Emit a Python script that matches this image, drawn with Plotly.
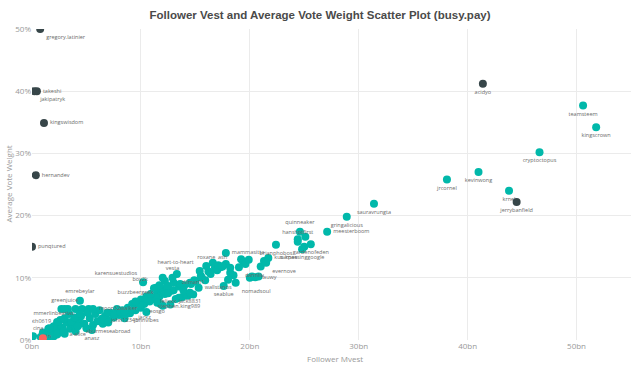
import plotly.graph_objects as go

# ---- labeled accounts: name, follower Mvest (bn), avg vote weight (%) ----
dark_names = ["gregory.latinier", "takeshi", "jakipatryk", "kingswisdom", "hernandev",
              "punqtured", "acidyo", "jerrybanfield"]
dark_mvest = [0.75, 0.45, 0.2, 1.1, 0.35, 0.0, 41.4, 44.5]
dark_weight = [50.0, 40.0, 40.0, 34.9, 26.5, 15.0, 41.2, 22.2]

red_names = [""]
red_mvest = [1.0]
red_weight = [0.3]

teal_names = ["teamsteem", "kingscrown", "cryptoctopus", "kevinwong", "jrcornel", "krnel",
              "sauravrungta", "gringalicious", "meesterboom", "quinneaker", "hanshotfirst",
              "gardenofeden", "surpassinggoogle", "brianphobos", "kus-knee", "evernove",
              "dannliu", "fauwy", "nomadsoul", "mammasitta", "ash", "roxane", "heart-to-heart",
              "dilmar01", "seablue", "jack8831", "wallstanos", "stephen.king989", "felixxx",
              "eosgo", "johnvibes", "john12345", "aburmeseabroad", "anasz", "a-alice",
              "karensuestudios", "vesta", "boy2k", "buzzbeergeek", "jackz", "moon32walker",
              "emrebeylar", "greenjuice", "mmerlinbearias", "eth0619", "cina", "artin"]
teal_mvest = [50.6, 51.8, 46.6, 41.0, 38.1, 43.8,
              31.4, 28.9, 27.1, 24.6, 24.4,
              25.6, 24.8, 22.4, 21.7, 21.5,
              19.0, 20.5, 18.7, 17.8, 17.5, 16.0, 15.4,
              16.4, 17.6, 14.5, 15.3, 13.5, 12.5,
              11.5, 10.5, 8.5, 7.0, 5.5, 4.2,
              10.2, 12.9, 11.2, 9.5, 9.2, 5.6,
              4.4, 3.0, 4.4, 2.3, 1.6, 0.1]
teal_weight = [37.7, 34.2, 30.2, 27.0, 25.8, 24.0,
               21.9, 19.8, 17.4, 17.4, 15.8,
               15.4, 14.6, 15.3, 13.2, 12.4,
               11.7, 10.1, 9.2, 14.0, 11.8, 11.9, 11.1,
               10.6, 8.7, 7.6, 8.4, 6.8, 7.5,
               6.0, 4.5, 4.6, 2.8, 1.6, 2.2,
               9.3, 10.0, 8.3, 6.2, 5.0, 5.0,
               6.3, 5.0, 4.2, 2.9, 1.9, 0.6]

# ---- unlabeled accounts in the dense band ----
band_mvest = [0.8, 1.2, 1.5, 1.0, 1.8, 2.0, 2.2, 1.5, 2.5, 2.8, 2.4, 3.0, 3.2, 3.5, 3.0,
              3.8, 4.0, 4.2, 2.6, 2.0, 3.4, 2.7, 3.3, 4.0, 4.6, 5.2, 4.5, 4.8, 5.0, 5.3,
              5.6, 5.8, 6.0, 6.2, 6.5, 6.7, 7.0, 7.2, 7.5, 7.8, 8.0, 8.3, 8.5, 8.8, 9.0,
              9.2, 9.5, 9.7, 10.0, 10.0, 10.3, 10.5, 10.8, 11.0, 11.2, 11.5, 11.7, 12.0,
              12.2, 12.5, 12.0, 11.8, 12.7, 13.2, 13.8, 14.3, 14.8, 13.0, 13.5, 14.0, 13.0,
              12.2, 12.0, 14.5, 15.0, 15.5, 16.2, 16.8, 17.0, 17.3, 17.8, 18.2, 18.5, 18.0,
              19.2, 19.4, 20.0, 20.2, 20.8, 21.0, 21.3, 25.1, 24.4, 25.0, 1.3, 1.6, 2.3,
              3.6, 4.4, 6.4, 6.9, 7.6, 8.1, 9.4, 9.9, 10.6, 11.4, 12.8, 11.4, 12.4, 14.6,
              15.6, 16.9, 19.6, 19.9, 13.6, 14.9, 16.6, 18.2, 17.1, 1.1, 2.9, 3.9, 5.1,
              6.6, 8.6, 10.9, 11.7, 13.9, 15.9, 17.4, 13.3]
band_weight = [0.5, 0.8, 0.4, 1.2, 1.0, 0.6, 1.5, 1.8, 1.2, 2.0, 2.5, 1.0, 2.8, 1.8, 3.5,
               2.5, 1.4, 3.2, 3.2, 2.2, 4.2, 5.0, 5.0, 5.0, 5.0, 5.0, 3.8, 2.6, 1.9, 3.5,
               2.4, 4.2, 3.0, 4.8, 2.6, 3.8, 3.2, 4.4, 3.6, 5.0, 4.0, 4.8, 3.5, 5.2, 4.3,
               5.8, 4.8, 6.0, 5.2, 6.5, 5.8, 7.0, 6.2, 7.4, 6.6, 7.8, 7.0, 8.2, 7.4, 8.7,
               5.5, 5.8, 5.7, 6.6, 6.9, 7.1, 7.3, 8.0, 8.6, 8.8, 9.2, 9.5, 10.0, 9.2, 9.4,
               10.3, 11.0, 11.6, 11.2, 11.7, 12.2, 10.8, 10.4, 9.7, 13.0, 12.6, 10.0, 10.2,
               10.2, 11.8, 12.7, 16.6, 16.2, 15.0, 0.3, 1.0, 0.9, 2.9, 2.6, 3.4, 4.4, 4.1,
               4.5, 5.2, 5.6, 6.6, 6.8, 7.9, 8.4, 8.6, 9.0, 10.0, 11.4, 12.2, 12.9, 9.0, 9.6,
               12.4, 11.6, 12.0, 0.2, 1.4, 3.6, 4.4, 3.3, 4.2, 7.4, 8.8, 8.0, 9.6, 11.8, 10.6]

x_ticks = [0, 10, 20, 30, 40, 50]
x_ticklabels = ["0bn", "10bn", "20bn", "30bn", "40bn", "50bn"]
y_ticks = [0, 10, 20, 30, 40, 50]
y_ticklabels = ["0%", "10%", "20%", "30%", "40%", "50%"]

TEAL = "#01B8AA"
DARK = "#374649"
RED = "#FD625E"

label_pos = {
    "gregory.latinier": "bottom right", "takeshi": "middle right", "jakipatryk": "bottom right",
    "kingswisdom": "middle right", "hernandev": "middle right", "punqtured": "middle right",
    "meesterboom": "middle right", "quinneaker": "top center", "hanshotfirst": "top center",
    "mammasitta": "middle right", "fauwy": "middle right", "nomadsoul": "bottom right",
    "ash": "top center", "roxane": "top center", "heart-to-heart": "top left",
    "karensuestudios": "top left", "vesta": "top center", "buzzbeergeek": "top center",
    "jackz": "bottom right", "moon32walker": "middle right", "emrebeylar": "top center",
    "greenjuice": "top center", "mmerlinbearias": "middle left", "eth0619": "middle left",
    "cina": "middle left", "artin": "middle right", "boy2k": "top left",
    "wallstanos": "middle right", "dilmar01": "bottom left", "kus-knee": "middle right",
    "evernove": "bottom right", "dannliu": "bottom right",
}

LABEL_FONT = dict(size=5.5, color="#6b6b6b", family="Open Sans")

fig = go.Figure()

fig.add_trace(go.Scatter(
    x=band_mvest, y=band_weight, mode="markers",
    marker=dict(color=TEAL, size=8, line=dict(width=0)), hoverinfo="skip", showlegend=False))

fig.add_trace(go.Scatter(
    x=teal_mvest, y=teal_weight, mode="markers+text", text=teal_names,
    textposition=[label_pos.get(n, "bottom center") for n in teal_names],
    textfont=LABEL_FONT,
    marker=dict(color=TEAL, size=8, line=dict(width=0)), showlegend=False))

fig.add_trace(go.Scatter(
    x=red_mvest, y=red_weight, mode="markers", text=red_names,
    marker=dict(color=RED, size=8, line=dict(width=0)), showlegend=False))

fig.add_trace(go.Scatter(
    x=dark_mvest, y=dark_weight, mode="markers+text", text=dark_names,
    textposition=[label_pos.get(n, "bottom center") for n in dark_names],
    textfont=LABEL_FONT,
    marker=dict(color=DARK, size=8, line=dict(width=0)), showlegend=False))

W, H = 640, 367
fig.update_layout(
    width=W, height=H,
    margin=dict(l=32, r=9, t=29, b=27, autoexpand=False),
    paper_bgcolor="white", plot_bgcolor="white",
    font=dict(family="Open Sans", color="#999999"),
    hovermode=False,
    title=dict(text="<b>Follower Vest and Average Vote Weight Scatter Plot (busy.pay)</b>",
               x=320 / W, xanchor="center", y=1 - 15 / H, yanchor="middle", yref="container",
               font=dict(family="Liberation Sans", size=11.5, color="#4a4a4a")),
    xaxis=dict(range=[0, 55], tickvals=x_ticks, ticktext=x_ticklabels, automargin=False,
               showgrid=True, gridcolor="#ebebeb", gridwidth=1, zeroline=False,
               showline=False, ticks="", tickfont=dict(size=8, color="#999999")),
    yaxis=dict(range=[0, 50], tickvals=y_ticks, ticktext=y_ticklabels, automargin=False,
               showgrid=True, gridcolor="#ebebeb", gridwidth=1, zeroline=False,
               showline=False, ticks="", tickfont=dict(size=8, color="#999999")),
    annotations=[
        dict(text="Follower Mvest", xref="paper", yref="paper", x=0.506, y=-18 / 311,
             xanchor="center", yanchor="middle", showarrow=False,
             font=dict(size=8, color="#999999", family="Open Sans")),
        dict(text="Average Vote Weight", xref="paper", yref="paper", x=-24 / 599, y=0.5,
             xanchor="center", yanchor="middle", textangle=-90, showarrow=False,
             font=dict(size=8, color="#999999", family="Open Sans")),
    ],
)

fig.write_html("out.html", config={"displayModeBar": False},
               post_script="document.body.style.margin='0px';")
